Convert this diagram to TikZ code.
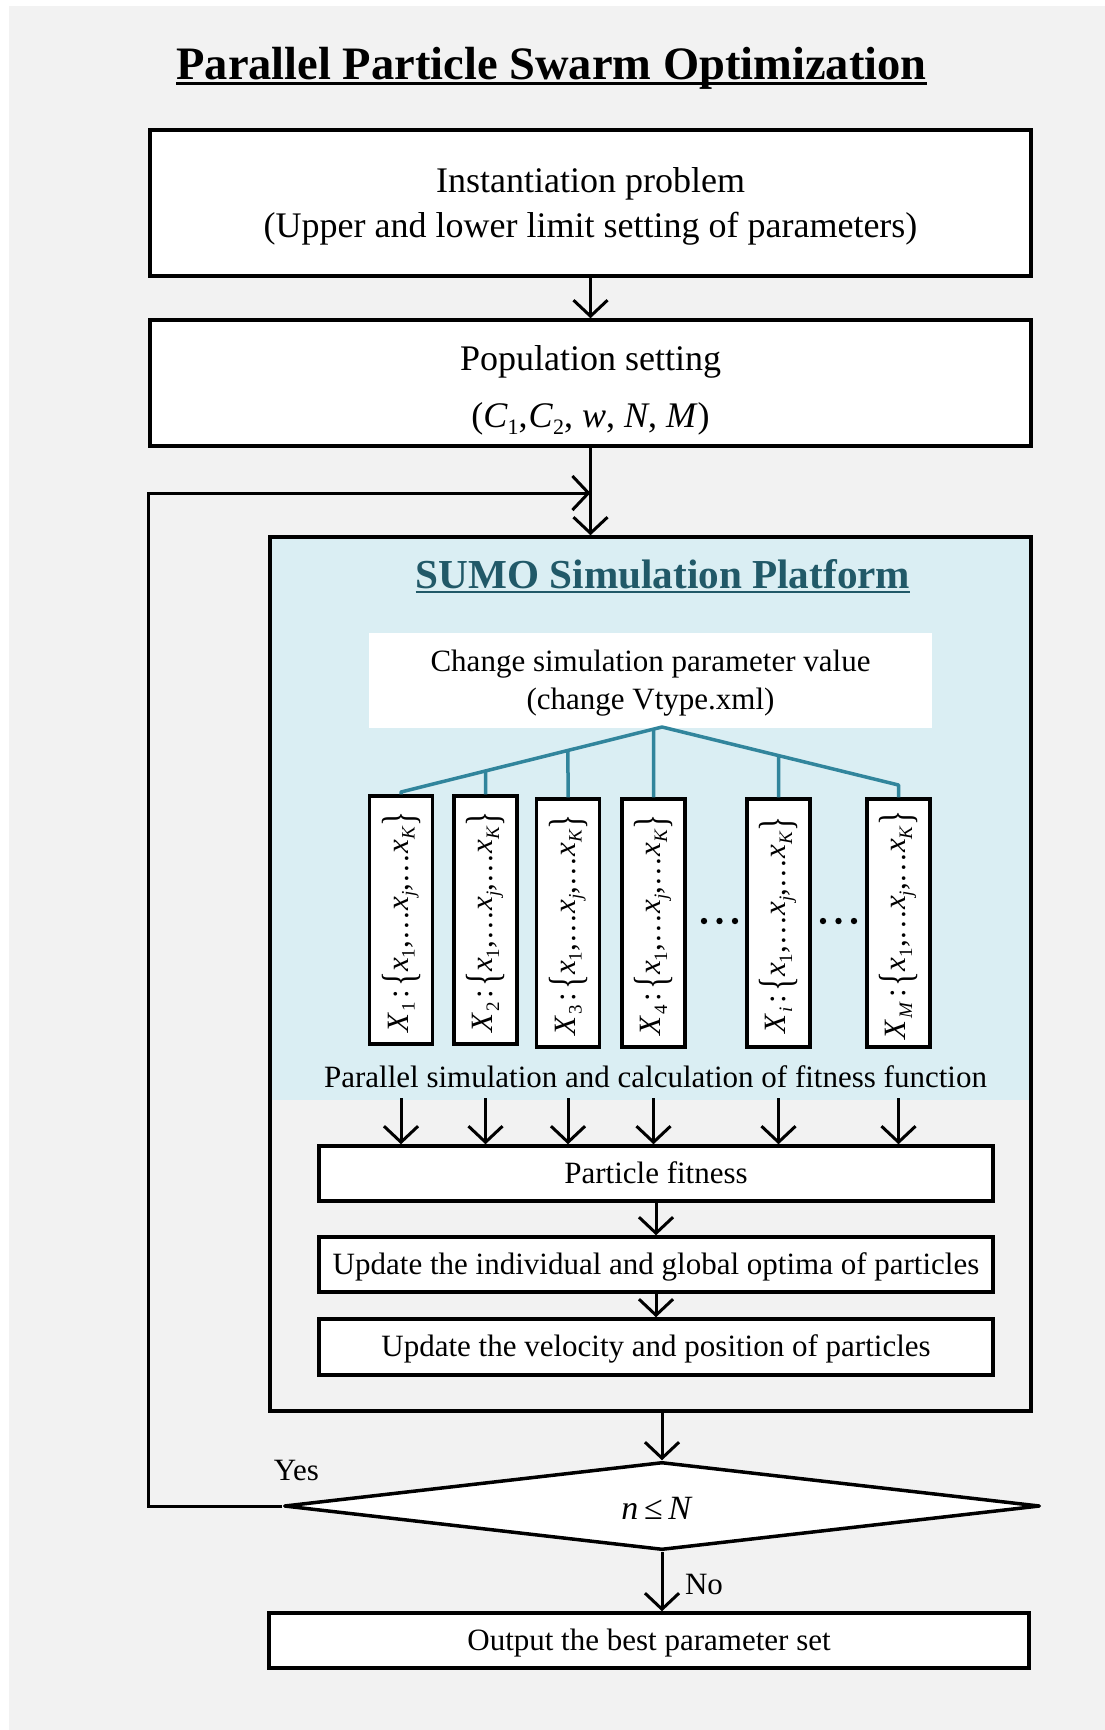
\documentclass[tikz,border=0pt]{standalone}
\usepackage{fontspec}
\usepackage{graphicx}
\setmainfont{Liberation Serif}
\usetikzlibrary{arrows.meta,shapes.geometric,calc}

\definecolor{pagegray}{HTML}{F2F2F2}
\definecolor{simblue}{HTML}{DAEEF3}
\definecolor{simteal}{HTML}{215968}
\definecolor{treeteal}{HTML}{31859C}

% font sizes (1pt = 1 unit of the drawing)
\newcommand\fTitle{\fontsize{46.5}{50}\selectfont\bfseries}
\newcommand\fBig{\fontsize{36}{44}\selectfont}
\newcommand\fMid{\fontsize{31}{38}\selectfont}
\newcommand\fSumo{\fontsize{41.2}{45}\selectfont\bfseries}
\newcommand\fPart{\fontsize{31}{36}\selectfont}
\newcommand\fDec{\fontsize{34}{40}\selectfont}

% subscripts for the formula texts
\newcommand\subP[1]{\raisebox{-6.5pt}{\fontsize{19}{19}\selectfont #1}}
\newcommand\subB[1]{\raisebox{-7pt}{\fontsize{22}{22}\selectfont #1}}
\newcommand\tallbrace[1]{\raisebox{-6pt}{\scalebox{1}[1.5]{#1}}}
\newcommand\wdots{\kern1pt.\kern2.5pt.\kern2.5pt.\kern1pt}
% particle position set  X_k : {x_1, ... x_j, ... x_K}
\newcommand\partset[1]{\textit{X}\kern1pt\subP{#1}\kern4pt:\kern3pt\tallbrace{\{}\textit{x}\subP{1},\wdots\textit{x}\subP{\textit{j}},\wdots\textit{x}\subP{\textit{K}}\tallbrace{\}}}

\tikzset{
  flowbox/.style={draw, line width=3.5pt, fill=white, inner sep=0pt, align=center},
  linebox/.style={flowbox, font=\fMid, text height=21pt, text depth=2pt},
  textline/.style={anchor=base, inner sep=0pt},
  flowarrow/.style={line width=3pt, -{Straight Barb[length=16pt,width=34pt]}},
  partbox/.style={draw, line width=3.5pt, fill=white, minimum width=63pt, minimum height=248pt, inner sep=0pt},
  treeline/.style={treeteal, line width=3.5pt},
}

\begin{document}
\begin{tikzpicture}[x=1pt,y=-1pt]
\useasboundingbox (0,0) rectangle (1105,1730);
\fill[white] (0,0) rectangle (1105,1730);
\fill[pagegray] (9,6) rectangle (1105,1730);

% heading
\node[textline, font=\fTitle] (title) at (551.5,79) {Parallel Particle Swarm Optimization};
\draw[line width=3.5pt] ([yshift=-4.5pt]title.base west) -- ([yshift=-4.5pt]title.base east);

% problem definition
\node[flowbox, minimum width=881pt, minimum height=146pt] (inst) at (590.5,203) {};
\node[textline, font=\fBig] (instA) at (590.5,192) {Instantiation problem};
\node[textline, font=\fBig] (instB) at (590.5,237) {(Upper and lower limit setting of parameters)};

% population
\node[flowbox, minimum width=881pt, minimum height=126pt] (pop) at (590.5,383) {};
\node[textline, font=\fBig] (popA) at (590.5,370) {Population setting};
\node[textline, font=\fBig] (popB) at (590.5,427) {(\textit{C}\subB{1},\kern1pt\textit{C}\subB{2}, \textit{w}, \textit{N}, \textit{M})};

\draw[flowarrow] (inst.south) -- (pop.north);

% simulation platform
\fill[simblue] (270,537) rectangle (1031,1100);
\node[draw, line width=3.5pt, minimum width=761pt, minimum height=874pt, inner sep=0pt] (sumo) at (650.5,974) {};
\node[textline, font=\fSumo, text=simteal] (sumoT) at (663,588) {SUMO Simulation Platform};
\draw[simteal, line width=2.5pt] ([yshift=-4pt]sumoT.base west) -- ([yshift=-4pt]sumoT.base east);

\draw[flowarrow] (pop.south) -- (pop.south |- sumo.north);

% parameter change
\node[fill=white, minimum width=563pt, minimum height=95pt, inner sep=0pt] (chg) at (650.5,680.5) {};
\node[textline, font=\fMid] (chgA) at (650.5,671) {Change simulation parameter value};
\node[textline, font=\fMid] (chgB) at (650.5,709) {(change Vtype.xml)};

% particles
\node[partbox] (part1) at (401,920) {};
\node[partbox] (part2) at (485.5,920) {};
\node[partbox] (part3) at (568,923) {};
\node[partbox] (part4) at (653.5,923) {};
\node[partbox] (parti) at (778.5,923) {};
\node[partbox] (partM) at (898.5,923) {};
\node[rotate=90, font=\fPart, inner sep=0pt] (part1T) at ([yshift=-2pt]part1.center) {\partset{1}};
\node[rotate=90, font=\fPart, inner sep=0pt] (part2T) at ([yshift=-2pt]part2.center) {\partset{2}};
\node[rotate=90, font=\fPart, inner sep=0pt] (part3T) at ([yshift=-2pt]part3.center) {\partset{3}};
\node[rotate=90, font=\fPart, inner sep=0pt] (part4T) at ([yshift=-2pt]part4.center) {\partset{4}};
\node[rotate=90, font=\fPart, inner sep=0pt] (partiT) at ([yshift=-2pt]parti.center) {\partset{\textit{i}}};
\node[rotate=90, font=\fPart, inner sep=0pt] (partMT) at ([yshift=-2pt]partM.center) {\partset{\textit{M}}};

% ellipsis dots between the particles
\foreach \dx in {704,719.5,735,823,838.5,854} \fill (\dx,921) circle (3.2pt);

% distribution tree
\coordinate (apex) at (662,727);
\coordinate (armL) at (401,792);
\coordinate (armR) at (898.5,785);
\coordinate (br2) at ($(apex)!0.6762!(armL)$);
\coordinate (br3) at ($(apex)!0.3602!(armL)$);
\coordinate (br4) at ($(apex)!0.0326!(armL)$);
\coordinate (bri) at ($(apex)!0.4926!(armR)$);
\draw[treeline, line join=round] (part1.north) -- (armL) -- (apex) -- (armR) -- (partM.north);
\draw[treeline] (part2.north) -- (br2);
\draw[treeline] (part3.north) -- (br3);
\draw[treeline] (part4.north) -- (br4);
\draw[treeline] (parti.north) -- (bri);

\node[textline, font=\fMid] (parsim) at (655.5,1087) {Parallel simulation and calculation of fitness function};
\coordinate (simBot) at (655,1098);

% particle update steps
\node[linebox, minimum width=674pt, minimum height=55pt] (fit) at (656,1173.5) {Particle fitness};
\node[linebox, minimum width=674pt, minimum height=55pt] (upd1) at (656,1264.5) {Update the individual and global optima of particles};
\node[linebox, minimum width=674pt, minimum height=56pt] (upd2) at (656,1347) {Update the velocity and position of particles};

\foreach \p in {part1,part2,part3,part4,parti,partM}
  \draw[flowarrow] (\p |- simBot) -- (\p |- fit.north);
\draw[flowarrow] (fit.south) -- (upd1.north);
\draw[flowarrow] (upd1.south) -- (upd2.north);

% termination test
\node[diamond, draw, line width=3.5pt, line join=round, fill=white, minimum width=756pt, minimum height=88pt, inner sep=0pt] (dec) at (662,1506) {};
\node[textline, font=\fDec] (decT) at (657,1519) {\textit{n}\,≤\,\textit{N}};
\draw[flowarrow] (dec.north |- sumo.south) -- (dec.north);

\node[textline, font=\fMid] (yes) at (296.5,1480) {Yes};
\node[textline, font=\fMid] (no) at (704,1594) {No};

\coordinate (loopTop) at (148,493);
\coordinate (merge) at (590.5,493);
\draw[flowarrow] (dec.west) -| (loopTop) -- (merge);

% result
\node[linebox, minimum width=760pt, minimum height=55pt] (out) at (649,1640.5) {Output the best parameter set};
\draw[flowarrow] (dec.south) -- (dec.south |- out.north);
\end{tikzpicture}
\end{document}
